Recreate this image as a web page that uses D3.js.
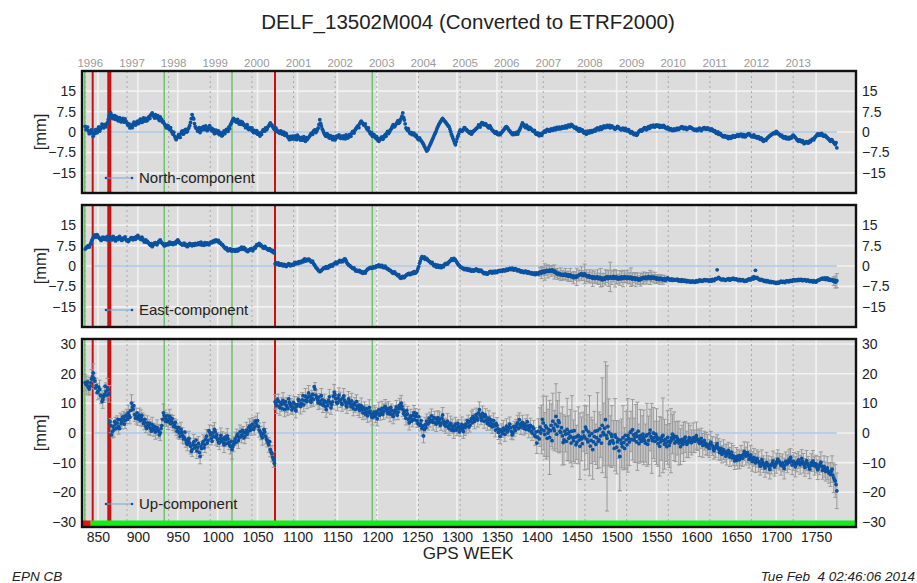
<!DOCTYPE html>
<html>
<head>
<meta charset="utf-8">
<script src="https://cdn.jsdelivr.net/npm/d3@7"></script>
<style>
  body { margin: 0; background: #fff; }
  svg { font-family: "Liberation Sans", Arial, Helvetica, sans-serif; }
</style>
</head>
<body>
<svg id="chart" width="917" height="583"></svg>
<script>
// ---- Weekly solutions. "*Values" hold even GPS weeks from 834,
// ---- "*OddValues" hold odd GPS weeks from 835.
const weekStart = 834;
const weekStep = 2;

const northValues = [
  2.1, 1.0, 0.4, -0.5, 0.8, -1.6, -0.6, 0.5, 1.2, 0.3,
  1.8, 2.4, 2.7, 1.9, 3.5, 5.8, 7.0, 6.1, 5.4, 4.6,
  5.0, 4.1, 4.6, 3.9, 4.3, 4.8, 3.6, 2.4, 1.5, 2.2,
  2.8, 3.4, 2.9, 4.0, 3.6, 4.4, 3.8, 4.7, 5.0, 4.3,
  5.6, 6.2, 7.0, 5.8, 6.4, 5.2, 4.8, 5.5, 4.5, 3.8,
  2.6, 1.5, 2.2, 0.9, 0.4, -0.8, -1.5, -2.8, -2.0, -1.2,
  -0.6, 0.4, -0.3, 1.0, 0.2, 1.6, 3.5, 6.4, 4.8, 2.0,
  1.2, 0.8, -0.2, 1.5, 2.0, 0.9, 1.6, 1.1, 2.3, 0.6,
  0.2, -0.6, 0.7, -0.4, -1.0, -0.2, -1.3, 0.4, 0.2, 0.9,
  1.8, 2.6, 3.9, 5.0, 4.4, 3.6, 4.0, 3.3, 2.8, 3.1,
  2.4, 2.0, 1.3, 1.6, 0.8, 0.2, 0.6, -0.3, -0.8, -1.0,
  -0.4, 0.2, 0.9, 1.5, 1.1, 2.2, 3.3, 2.6, 1.5, 0.8,
  0.8, 0.3, -0.5, 0.1, -0.4, -1.2, -0.6, -1.8, -2.8, -2.1,
  -1.5, -2.6, -1.9, -1.2, -2.2, -3.0, -2.4, -1.7, -3.4, -2.8,
  -2.0, -1.1, -0.4, 0.2, 0.8, 0.3, 1.5, 4.5, 2.2, 0.6,
  -0.8, -1.6, -1.0, -2.2, -1.5, -2.8, -2.0, -2.4, -1.6, -1.1,
  -2.3, -1.8, -1.4, -2.5, -1.6, -1.9, -1.2, -0.5, 0.2, 0.6,
  1.5, 2.3, 3.0, 4.0, 3.2, 2.4, 1.8, 0.8, 0.2, -0.8,
  -1.6, -1.0, -2.2, -2.8, -3.4, -2.6, -1.8, -2.2, -1.0, -0.4,
  -0.6, 0.5, 1.4, 2.7, 2.0, 3.1, 4.2, 3.6, 5.0, 7.0,
  4.4, 1.5, 0.6, 0.1, -0.6, -1.0, -0.4, -1.6, -2.1, -2.8,
  -2.8, -3.6, -4.5, -5.8, -7.0, -6.2, -4.8, -3.5, -2.2, -0.8,
  0.5, 2.0, 3.2, 4.1, 5.0, 4.2, 3.5, 2.7, 2.0, 0.2,
  -1.6, -3.2, -4.7, -2.5, -0.8, 0.8, 0.2, 1.0, 1.5, 0.9,
  0.2, -0.4, -0.8, 0.1, 0.6, 1.2, 1.8, 2.2, 2.9, 3.3,
  2.6, 3.0, 2.2, 1.5, 1.9, 0.8, 0.2, -0.5, -0.3, -1.0,
  -1.0, -0.2, 0.6, 1.4, 2.0, 1.2, 0.4, -0.3, -1.0, -0.6,
  -0.4, -0.8, 0.6, 1.8, 3.3, 2.4, 1.6, 2.1, 1.0, 1.4,
  0.8, 0.3, -0.4, -0.9, -1.0, -0.6, -1.2, -0.2, 0.4, 0.6,
  0.8, 0.3, 1.1, 0.6, 1.4, 1.0, 1.5, 1.8, 1.2, 2.0,
  1.6, 2.2, 1.8, 2.5, 2.1, 2.6, 1.9, 1.4, 1.0, 0.8,
  1.2, 0.4, 0.1, -0.4, -0.8, 0.3, -0.3, 0.5, 0.2, 0.7,
  1.1, 1.5, 0.8, 1.9, 1.3, 2.2, 1.6, 2.4, 2.0, 1.5,
  2.2, 1.7, 1.0, 1.5, 1.9, 1.2, 0.8, 1.4, 0.6, 1.0,
  0.5, 0.2, -0.4, -0.2, -1.0, -0.6, -0.9, 0.2, 0.8, 0.5,
  1.2, 1.5, 1.0, 2.0, 1.6, 2.2, 2.5, 1.8, 2.6, 2.1,
  1.7, 2.3, 1.9, 2.0, 1.4, 1.8, 0.8, 1.2, 0.5, 1.1,
  0.7, 1.4, 1.0, 1.5, 2.0, 1.2, 1.7, 0.9, 1.4, 1.9,
  1.5, 1.1, 0.6, 1.0, 0.8, 1.4, 0.5, 1.2, 1.6, 1.0,
  1.5, 1.1, 0.6, 0.9, 0.2, -0.1, -0.4, -0.9, -0.5, -1.3,
  -1.8, -1.4, -2.0, -2.4, -1.7, -2.1, -1.3, -1.9, -1.6, -1.0,
  -1.4, -0.8, -1.7, -1.2, -1.5, -1.0, -0.6, -1.3, -1.8, -1.1,
  -1.6, -2.2, -1.8, -2.7, -2.4, -3.4, -2.9, -2.5, -2.0, -1.4,
  -1.0, -0.6, -0.2, 0.2, -0.4, -0.9, -1.5, -1.8, -2.2, -1.9,
  -2.2, -2.6, -1.9, -1.6, -1.3, -2.0, -2.8, -3.4, -3.0, -3.6,
  -3.8, -4.0, -3.5, -4.1, -3.3, -3.0, -2.5, -2.2, -1.5, -0.7,
  -0.7, -0.9, -1.2, -1.6, -1.4, -2.1, -2.6, -3.4, -2.9, -3.8,
  -4.6, -5.8
];

const northOddValues = [
  0.9, 1.8, -0.6, 0.6, -0.4, -0.2, 0.9, -0.3, 1.9, 1.1,
  2.9, 1.5, 2.2, 3.0, 4.6, 6.6, 5.2, 4.9, 6.0, 5.6,
  4.2, 5.3, 3.7, 5.0, 3.6, 4.0, 2.8, 3.0, 2.6, 1.6,
  3.6, 2.5, 3.8, 3.1, 4.7, 3.5, 5.2, 4.0, 4.1, 5.2,
  5.0, 6.6, 6.0, 5.1, 5.7, 6.0, 4.2, 4.9, 3.6, 3.1,
  1.9, 2.4, 1.2, 1.6, -0.3, -0.1, -2.2, -1.9, -1.0, -2.0,
  0.2, -0.8, 0.7, 0.0, 1.1, 2.4, 4.9, 5.3, 3.1, 1.4,
  0.3, 1.6, 0.6, 0.8, 1.2, 2.2, 0.5, 1.8, 1.4, 1.3,
  0.9, 0.1, -0.2, 0.4, -0.5, -1.4, -0.4, -0.6, 1.0, 0.2,
  1.2, 3.2, 4.5, 4.2, 3.8, 4.6, 2.9, 3.9, 3.6, 2.5,
  1.6, 2.7, 0.9, 1.0, 1.5, -0.2, 0.1, 0.5, -0.2, -1.5,
  -0.9, 0.8, 0.3, 0.8, 1.9, 2.8, 2.5, 1.9, 1.0, 1.5,
  0.1, -0.2, 0.4, -0.8, -0.1, -0.5, -1.4, -2.2, -1.6, -2.6,
  -2.2, -1.4, -2.8, -1.7, -2.6, -2.0, -3.0, -2.5, -2.1, -2.4,
  -1.6, -0.6, -0.9, 0.6, -0.2, 1.0, 2.8, 3.2, 1.1, -0.2,
  -1.4, -0.6, -1.8, -1.3, -2.3, -1.7, -2.9, -1.5, -2.0, -1.9,
  -1.5, -2.4, -2.0, -1.1, -2.2, -1.0, -1.6, 0.1, -0.4, 1.1,
  2.0, 1.6, 3.6, 3.4, 2.6, 3.0, 1.2, 1.5, -0.4, -0.2,
  -1.0, -1.8, -1.6, -2.4, -2.8, -2.0, -2.7, -1.4, -1.6, 0.2,
  -0.1, 0.9, 2.1, 1.9, 2.6, 3.6, 3.2, 4.4, 5.8, 5.4,
  3.0, 1.1, 1.2, -0.5, -0.2, -0.6, -1.1, -1.2, -2.6, -2.2,
  -3.2, -4.0, -5.2, -6.4, -6.6, -5.4, -4.2, -2.8, -1.5, -0.2,
  1.3, 2.6, 3.7, 4.6, 4.5, 3.8, 3.0, 2.2, 1.1, -0.8,
  -2.4, -4.0, -3.6, -1.6, 0.1, 0.3, 0.6, 1.6, 0.8, 0.4,
  -0.2, 0.1, -0.3, 0.4, 1.0, 1.5, 2.6, 1.8, 3.4, 2.8,
  3.1, 2.4, 1.7, 2.3, 1.2, 0.4, -0.2, 0.1, -0.9, -0.4,
  -0.5, 0.3, 1.0, 1.8, 1.6, 0.7, 0.0, -0.7, -0.3, -0.9,
  -0.1, 0.0, 1.2, 2.6, 2.8, 1.9, 2.5, 1.3, 1.7, 1.1,
  0.4, 0.6, -0.7, -0.3, -1.4, -0.9, -0.5, 0.1, 0.0, 1.0,
  0.4, 0.9, 0.6, 1.2, 0.8, 1.7, 1.1, 1.4, 1.7, 1.4,
  2.0, 1.5, 2.4, 1.9, 2.8, 2.2, 1.6, 1.8, 1.3, 0.3,
  0.7, 0.8, -0.3, 0.2, -0.5, -0.2, 0.4, -0.1, 0.6, 0.3,
  0.8, 1.2, 1.4, 1.0, 1.8, 1.7, 2.0, 1.8, 2.4, 1.9,
  1.8, 1.3, 1.4, 2.1, 1.5, 0.9, 1.2, 0.9, 1.3, 0.4,
  0.9, -0.2, 0.1, -0.7, -0.5, -1.2, -0.2, 0.5, 0.3, 1.0,
  1.6, 0.8, 1.6, 1.3, 2.3, 1.9, 2.0, 2.3, 2.2, 2.5,
  2.0, 1.8, 2.4, 1.6, 1.2, 1.4, 1.0, 0.7, 0.9, 0.6,
  1.1, 0.9, 1.3, 1.8, 1.5, 1.6, 1.2, 1.3, 1.7, 1.4,
  1.2, 0.7, 1.0, 0.5, 1.2, 0.9, 0.9, 1.5, 1.2, 1.3,
  1.0, 0.8, 1.1, 0.4, 0.5, -0.5, 0.0, -0.6, -1.1, -1.6,
  -1.3, -1.9, -1.6, -2.0, -2.3, -1.6, -1.8, -1.4, -1.2, -1.6,
  -1.0, -1.3, -1.0, -1.8, -1.1, -0.7, -1.1, -1.6, -1.4, -1.9,
  -2.0, -1.7, -2.4, -2.2, -3.0, -2.8, -3.1, -2.2, -1.6, -1.2,
  -0.7, -0.3, -0.6, -0.1, -0.7, -1.3, -1.2, -2.1, -1.7, -2.5,
  -2.0, -2.3, -2.2, -1.2, -1.8, -2.4, -3.1, -2.9, -3.4, -3.2,
  -4.3, -3.6, -3.9, -3.7, -3.6, -2.7, -2.9, -1.8, -1.1, -1.2,
  -1.1, -0.5, -1.5, -1.2, -1.8, -2.4, -3.0, -2.8, -3.5, -4.2,
  -3.9
];

const eastValues = [
  6.2, 6.8, 7.4, 7.7, 9.2, 10.5, 11.4, 10.8, 11.0, 10.2,
  9.4, 10.6, 9.8, 10.2, 10.9, 9.5, 10.1, 9.6, 10.4, 9.2,
  10.0, 10.5, 10.2, 9.4, 9.9, 10.7, 9.3, 9.0, 9.8, 10.4,
  9.6, 10.2, 10.8, 11.2, 10.4, 9.7, 10.1, 8.8, 9.6, 9.0,
  8.3, 7.6, 7.1, 8.0, 8.6, 7.8, 8.9, 9.6, 8.5, 8.0,
  7.5, 7.7, 8.3, 8.8, 8.1, 7.9, 8.6, 9.0, 9.6, 8.7,
  8.2, 7.7, 8.4, 7.5, 7.1, 7.6, 8.0, 7.4, 7.9, 8.3,
  7.8, 8.5, 8.3, 7.7, 8.1, 8.6, 7.9, 8.2, 8.3, 8.8,
  9.1, 9.4, 9.6, 9.0, 8.5, 8.3, 7.8, 7.0, 6.3, 6.0,
  5.8, 6.2, 5.5, 6.0, 5.4, 6.1, 5.8, 6.5, 6.9, 6.5,
  6.0, 5.7, 5.3, 5.9, 6.4, 5.6, 6.8, 7.2, 7.6, 8.3,
  7.8, 7.1, 6.5, 6.9, 6.2, 5.8, 6.0, 5.3, 5.0, 0.8,
  0.6, 1.1, 0.3, 0.8, 0.1, 0.5, -0.2, 0.4, 0.7, 0.2,
  0.6, 1.0, 0.8, 1.3, 1.6, 1.2, 1.9, 2.2, 1.8, 2.4,
  2.5, 2.0, 1.4, 1.0, 0.1, -0.8, -1.5, -2.1, -1.6, -1.0,
  -0.6, -0.2, -0.8, 0.1, 0.4, 0.0, 0.9, 1.4, 1.1, 1.7,
  1.5, 2.0, 2.2, 2.5, 1.2, 0.4, 0.0, -0.5, -1.0, -1.3,
  -1.5, -2.0, -1.7, -2.4, -2.7, -2.2, -1.8, -1.2, -0.9, -0.5,
  -0.8, -0.2, -0.5, 0.1, 0.4, -0.3, 0.2, -0.6, -0.1, -0.9,
  -1.2, -1.5, -2.1, -2.7, -2.3, -3.0, -3.6, -4.0, -4.5, -3.8,
  -4.2, -3.5, -3.1, -2.7, -3.0, -2.4, -2.1, -2.6, -1.8, -0.2,
  1.8, 3.4, 3.0, 2.4, 2.8, 2.0, 1.6, 1.0, 0.6, 0.2,
  -0.4, 0.3, -0.2, -0.6, 0.1, 0.4, 1.0, 0.7, 1.5, 2.0,
  2.4, 2.8, 2.2, 1.2, 0.4, -0.2, -0.5, -1.0, -0.9, -1.4,
  -1.6, -1.2, -1.9, -1.4, -1.6, -1.1, -1.8, -2.0, -1.5, -2.2,
  -2.8, -2.5, -3.0, -2.4, -2.0, -2.6, -2.2, -1.9, -2.4, -1.7,
  -1.6, -2.0, -1.4, -1.8, -1.2, -1.5, -0.9, -1.3, -1.0, -1.4,
  -1.2, -1.8, -1.5, -2.2, -2.0, -2.4, -1.9, -2.6, -2.3, -2.8,
  -2.6, -2.8, -3.2, -2.5, -2.9, -2.2, -2.4, -1.9, -2.2, -1.6,
  -2.0, -1.5, -1.8, -1.6, -2.2, -2.5, -2.9, -3.2, -3.0, -3.4,
  -3.4, -3.0, -3.6, -3.8, -3.3, -4.0, -4.3, -3.7, -4.0, -3.5,
  -3.2, -2.8, -3.5, -2.9, -3.6, -4.0, -3.8, -4.2, -4.5, -4.1,
  -4.4, -4.0, -4.7, -4.3, -5.1, -4.6, -4.2, -3.9, -4.5, -4.0,
  -4.2, -3.8, -4.5, -4.1, -4.8, -4.4, -4.0, -4.6, -3.9, -4.3,
  -4.0, -4.5, -4.1, -4.8, -4.3, -5.0, -4.6, -5.2, -5.0, -4.7,
  -4.4, -4.1, -4.6, -3.9, -4.2, -4.0, -4.5, -4.3, -4.8, -4.7,
  -4.9, -4.7, -5.1, -4.6, -5.0, -4.4, -4.8, -5.0, -5.3, -4.9,
  -5.2, -4.8, -5.5, -5.3, -5.0, -5.6, -5.2, -5.8, -5.5, -5.9,
  -5.9, -5.6, -6.0, -5.4, -5.7, -5.1, -5.3, -5.5, -5.0, -5.4,
  -5.2, -5.6, -5.3, -4.9, -5.4, -4.6, -1.4, -4.2, -4.8, -5.1,
  -4.8, -5.3, -5.0, -4.6, -5.2, -4.9, -4.5, -5.0, -4.7, -5.2,
  -4.9, -5.4, -5.0, -5.6, -5.3, -5.1, -4.7, -5.0, -4.4, -3.9,
  -1.6, -4.2, -4.8, -5.2, -5.0, -5.4, -5.3, -5.8, -5.6, -6.0,
  -6.1, -5.8, -6.2, -6.4, -5.9, -6.1, -5.6, -6.0, -5.9, -5.7,
  -5.5, -5.8, -5.3, -5.6, -5.0, -5.3, -5.4, -4.9, -5.2, -5.0,
  -5.3, -5.0, -5.5, -5.2, -5.7, -5.4, -5.9, -5.6, -5.9, -5.3,
  -5.1, -4.8, -4.5, -4.7, -5.0, -4.4, -5.2, -5.3, -5.0, -5.6,
  -5.9, -5.4
];

const eastOddValues = [
  6.6, 7.3, 6.9, 8.4, 9.8, 11.0, 10.6, 11.5, 10.4, 9.8,
  10.1, 10.0, 10.5, 9.6, 10.2, 10.6, 9.8, 10.9, 9.9, 10.3,
  9.7, 10.9, 9.6, 10.1, 10.3, 9.8, 9.6, 9.5, 10.2, 9.9,
  10.4, 9.8, 10.3, 10.6, 9.9, 10.6, 9.4, 9.3, 8.7, 8.6,
  7.9, 8.2, 7.6, 8.5, 8.1, 8.4, 9.2, 8.9, 8.2, 7.4,
  8.1, 8.0, 7.9, 8.2, 8.5, 8.3, 8.1, 8.7, 9.1, 8.3,
  7.9, 8.0, 7.8, 7.9, 7.4, 8.3, 7.7, 8.1, 7.6, 8.0,
  8.2, 7.9, 8.8, 8.3, 7.6, 8.2, 8.5, 7.8, 8.7, 8.5,
  8.8, 9.0, 9.2, 9.4, 8.7, 7.9, 7.4, 6.6, 6.7, 5.6,
  6.3, 5.6, 5.9, 5.6, 5.9, 5.5, 6.3, 6.1, 6.2, 6.8,
  6.3, 5.4, 5.8, 6.2, 5.9, 6.3, 6.5, 7.8, 7.9, 7.5,
  7.4, 6.7, 7.2, 6.5, 6.0, 6.4, 5.6, 5.7, 4.8, 1.2,
  0.9, 0.4, 0.7, 0.2, 0.6, 0.0, 0.3, 0.9, 0.1, 0.5,
  0.3, 1.3, 1.1, 0.9, 1.4, 1.7, 1.5, 2.6, 2.1, 2.0,
  2.3, 1.6, 1.8, 0.5, -0.4, -1.1, -1.8, -1.9, -1.3, -0.7,
  -0.9, -0.5, -0.3, -0.2, 0.2, 0.6, 1.0, 0.8, 1.5, 2.1,
  1.8, 1.6, 2.6, 1.9, 0.8, 0.2, -0.3, -0.8, -0.7, -1.8,
  -1.9, -1.6, -2.2, -2.1, -2.4, -2.6, -1.5, -1.0, -0.6, -0.9,
  -0.4, -0.6, 0.0, -0.2, 0.0, 0.1, -0.4, -0.2, -0.7, -1.1,
  -1.6, -1.8, -2.5, -2.2, -2.8, -3.3, -3.2, -4.4, -4.0, -4.3,
  -3.7, -3.2, -2.8, -3.2, -2.6, -2.8, -2.5, -2.2, -1.0, 1.0,
  2.8, 2.9, 3.3, 2.7, 2.3, 1.7, 1.2, 1.3, 0.1, 0.5,
  0.0, -0.5, 0.1, -0.2, -0.3, 0.8, 0.6, 1.2, 1.8, 2.6,
  2.1, 2.5, 1.7, 0.8, 0.1, -0.6, -0.8, -1.3, -1.2, -1.0,
  -1.3, -1.7, -1.5, -1.9, -1.3, -1.5, -1.4, -1.7, -2.0, -2.5,
  -2.4, -2.9, -2.6, -2.1, -2.4, -2.0, -2.5, -2.2, -1.9, -2.0,
  -1.8, -1.5, -1.7, -1.4, -1.6, -1.1, -1.2, -0.8, -1.5, -1.0,
  -1.5, -1.4, -1.9, -1.8, -2.3, -2.0, -2.2, -2.1, -2.6, -2.4,
  -3.0, -2.5, -2.8, -2.9, -2.4, -2.7, -2.0, -2.4, -1.8, -1.9,
  -1.7, -1.9, -1.4, -2.0, -1.9, -2.8, -2.6, -2.9, -3.3, -3.1,
  -3.1, -3.4, -3.2, -3.5, -3.7, -3.6, -3.9, -4.2, -3.6, -3.3,
  -3.0, -3.3, -3.1, -3.4, -3.8, -3.5, -4.1, -3.9, -4.0, -4.6,
  -4.1, -4.5, -4.2, -4.8, -4.5, -4.9, -4.4, -4.6, -4.1, -4.4,
  -4.5, -4.3, -4.0, -4.6, -4.2, -4.7, -4.3, -4.1, -4.4, -4.6,
  -4.4, -4.2, -4.7, -4.4, -4.7, -4.5, -4.9, -4.7, -4.5, -4.2,
  -4.6, -4.3, -4.2, -4.4, -4.6, -4.3, -4.1, -4.6, -4.4, -5.0,
  -4.5, -4.9, -4.8, -5.2, -4.7, -4.9, -5.2, -4.7, -5.0, -5.2,
  -5.0, -5.3, -5.1, -5.6, -5.4, -5.3, -5.6, -5.4, -5.7, -5.6,
  -5.6, -5.8, -5.7, -5.8, -5.4, -5.5, -5.6, -5.2, -5.3, -5.1,
  -5.4, -5.1, -5.5, -5.2, -5.0, -4.8, -4.5, -4.6, -5.0, -4.8,
  -5.0, -5.1, -4.8, -5.0, -4.7, -4.8, -4.7, -4.9, -5.0, -5.4,
  -5.2, -5.1, -5.3, -5.4, -5.5, -4.9, -5.1, -4.6, -4.8, -4.5,
  -4.4, -4.6, -5.0, -4.9, -5.2, -5.6, -5.5, -5.4, -5.8, -5.7,
  -5.9, -6.0, -6.0, -6.2, -6.3, -5.8, -5.9, -5.7, -6.1, -5.5,
  -5.7, -5.5, -5.5, -5.2, -5.4, -5.1, -5.2, -5.3, -4.9, -5.4,
  -5.1, -5.3, -5.2, -5.4, -5.5, -5.6, -5.4, -5.8, -5.5, -5.2,
  -4.9, -4.6, -4.8, -4.4, -4.7, -4.9, -4.8, -5.1, -5.4, -5.2,
  -5.7
];

const upValues = [
  17.0, 16.2, 15.4, 15.8, 18.2, 20.3, 17.5, 16.0, 14.0, 14.7,
  12.5, 11.3, 13.0, 14.0, 15.2, 13.2, 2.5, 0.5, 1.1, 3.0,
  3.4, 2.2, 4.5, 3.8, 5.0, 4.2, 5.6, 6.8, 5.3, 10.1,
  8.0, 6.2, 5.6, 4.8, 6.0, 5.1, 4.5, 3.6, 2.3, 3.4,
  2.0, 1.5, 2.8, 1.1, 0.3, 1.8, 0.6, 0.0, 2.5, 6.8,
  5.2, 4.5, 3.8, 5.6, 4.0, 3.4, 2.6, 1.8, 0.7, 0.0,
  1.2, -0.8, -1.5, -2.3, -3.8, -1.8, -4.5, -5.6, -3.0, -4.2,
  -6.0, -3.5, -7.9, -5.2, -2.8, -4.0, -1.1, -2.5, 0.3, -1.8,
  0.0, 1.2, -1.5, -2.2, -3.4, -0.8, -2.0, -4.0, -2.3, -1.0,
  -3.2, -4.5, -5.6, -3.8, -2.0, -1.1, -2.6, 0.4, -0.8, 0.0,
  -1.2, 1.0, 0.5, 2.3, 1.6, 3.0, 2.0, 3.4, 4.2, 1.0,
  0.0, -1.6, 1.2, -1.1, -2.4, -4.0, -5.6, -7.0, -9.0, 10.5,
  9.2, 10.7, 8.5, 9.6, 11.0, 7.9, 9.4, 8.2, 10.3, 9.0,
  8.6, 9.8, 7.5, 9.6, 10.8, 8.9, 11.2, 9.5, 12.4, 10.6,
  13.5, 11.0, 11.8, 11.3, 14.8, 12.0, 10.2, 10.7, 12.6, 9.4,
  10.8, 7.9, 9.2, 12.2, 8.5, 10.5, 13.8, 11.6, 10.0, 12.8,
  11.2, 9.6, 12.5, 10.4, 8.8, 11.5, 9.9, 10.8, 8.2, 9.5,
  10.6, 8.4, 7.6, 9.2, 6.8, 8.0, 7.1, 5.8, 8.6, 6.4,
  5.2, 7.0, 6.1, 4.8, 7.9, 6.5, 8.3, 7.2, 9.0, 7.6,
  8.2, 6.4, 7.5, 5.6, 6.8, 8.8, 7.0, 9.4, 10.1, 8.0,
  7.2, 5.0, 6.4, 3.4, 5.8, 4.6, 6.9, 5.6, 4.2, 5.5,
  3.1, 1.6, -1.0, 2.8, 4.0, 3.2, 4.5, 5.8, 3.6, 4.9,
  3.0, 5.2, 4.5, 3.3, 6.1, 2.8, 2.3, 4.0, 1.5, 3.2,
  2.3, 0.8, 3.0, 1.6, 2.2, 1.1, 2.9, 0.5, 1.8, 2.3,
  3.5, 2.6, 4.8, 5.6, 3.9, 6.2, 4.4, 7.9, 5.1, 6.6,
  4.0, 5.6, 3.2, 5.0, 3.4, 2.1, 4.2, 1.0, 2.6, 0.2,
  -1.1, 0.8, 1.6, -0.4, 2.3, 1.2, 3.0, 0.5, 0.0, 1.4,
  2.2, 3.4, 4.5, 2.0, 3.6, 1.5, 2.3, 3.8, 1.0, 2.6,
  0.0, 1.4, -1.2, -3.4, 0.6, 2.0, 1.2, 3.4, -0.5, 1.8,
  0.0, -1.5, 2.6, 4.0, 0.8, 5.6, 2.3, 3.5, 0.2, -1.0,
  -2.3, -0.4, 1.2, -1.8, -1.1, 0.6, -2.6, -1.4, -3.2, -0.8,
  -4.5, -2.0, 0.4, -1.6, 1.1, -3.0, -0.9, -2.5, -5.6, -1.2,
  -3.8, 0.8, -2.3, -1.0, 2.6, -0.5, 4.5, -1.8, 0.3, -2.8,
  -1.2, -3.4, -0.6, -4.8, -2.2, -7.9, -3.5, -1.6, -5.2, -2.3,
  -0.8, -3.0, 0.5, 1.1, -2.4, -0.2, -1.1, -3.6, -0.9, -2.0,
  -1.5, -3.4, -0.6, -2.5, 1.0, -1.8, 0.0, -2.8, -1.2, -3.6,
  -4.5, -2.0, -0.8, -3.8, -3.4, -1.5, -4.2, -2.6, -0.4, -1.1,
  -2.9, -1.8, -3.4, -4.6, -2.2, -3.0, -1.4, -3.8, -2.5, -2.0,
  -3.2, -1.6, -2.8, -0.9, -2.3, -3.5, -1.8, -4.2, -2.6, -3.6,
  -4.0, -5.2, -3.1, -4.4, -6.0, -4.8, -3.6, -5.5, -6.0, -7.2,
  -5.6, -6.8, -7.3, -5.9, -8.1, -6.5, -7.6, -9.4, -8.0, -8.8,
  -9.0, -7.6, -8.5, -6.2, -7.8, -6.6, -8.9, -7.4, -9.6, -8.2,
  -10.1, -8.6, -9.7, -11.2, -9.0, -10.5, -11.8, -9.9, -10.7, -12.3,
  -10.9, -9.4, -11.5, -10.2, -8.8, -9.7, -11.0, -10.1, -12.0, -9.5,
  -10.4, -9.0, -8.2, -10.8, -9.6, -11.4, -10.0, -9.1, -10.7, -8.6,
  -10.2, -11.6, -9.3, -10.8, -12.2, -10.0, -9.4, -11.1, -10.5, -12.4,
  -11.0, -9.8, -12.6, -11.3, -13.0, -11.8, -13.5, -14.0, -12.2, -15.1,
  -16.2, -19.5
];

const upOddValues = [
  16.4, 17.2, 14.8, 16.9, 19.0, 18.4, 15.2, 13.6, 15.5, 12.8,
  10.6, 12.2, 15.8, 12.8, 14.6, 3.8, -0.6, 2.2, 3.9, 1.6,
  4.6, 1.5, 3.2, 5.4, 3.0, 6.0, 4.6, 5.9, 7.6, 8.8,
  9.2, 5.0, 6.8, 5.5, 4.2, 5.9, 3.2, 4.6, 1.6, 2.7,
  3.2, 0.6, 1.9, 2.2, 0.9, 1.0, -0.6, 1.5, 4.6, 5.9,
  3.9, 5.8, 4.6, 3.1, 4.8, 2.2, 3.6, 0.6, 1.9, -1.2,
  0.2, -2.0, 0.3, -3.2, -2.6, -3.4, -6.2, -4.0, -5.0, -2.4,
  -4.8, -6.6, -4.4, -3.6, -5.0, -2.2, -3.4, 0.8, -0.6, -2.8,
  -1.2, 0.4, -0.6, -3.0, -1.8, -2.6, -3.2, -1.4, -3.6, -2.0,
  -4.0, -2.8, -4.6, -2.9, -3.2, -0.4, -1.6, -1.2, 0.9, -1.6,
  0.2, -0.4, 1.8, 0.9, 2.8, 1.2, 4.0, 2.5, 2.2, 0.5,
  -0.8, -0.2, 0.4, -2.0, -3.2, -2.8, -6.5, -8.2, -10.2, 9.8,
  11.4, 9.0, 10.2, 8.2, 9.9, 10.6, 8.8, 11.5, 9.7, 7.8,
  10.2, 8.4, 9.0, 11.3, 9.4, 10.0, 12.6, 10.9, 11.2, 12.0,
  12.4, 10.4, 13.0, 15.6, 12.8, 11.2, 12.1, 9.8, 11.2, 10.0,
  9.0, 10.4, 11.0, 10.2, 9.6, 12.4, 12.9, 10.4, 11.8, 10.9,
  10.1, 11.8, 11.0, 9.3, 10.2, 10.6, 8.9, 9.4, 10.0, 8.0,
  9.0, 9.4, 8.6, 7.9, 8.6, 6.4, 8.2, 7.0, 7.4, 5.4,
  6.4, 5.6, 7.2, 6.6, 6.0, 7.4, 6.2, 8.6, 8.1, 6.6,
  7.0, 8.6, 6.2, 7.4, 7.8, 6.0, 8.2, 8.4, 9.0, 6.6,
  6.0, 7.6, 4.6, 5.2, 4.0, 5.9, 4.4, 6.6, 3.2, 2.6,
  4.2, 2.4, 1.2, 1.8, 3.0, 5.0, 3.8, 4.2, 5.2, 3.4,
  4.4, 3.6, 2.6, 5.0, 4.0, 3.6, 3.4, 2.2, 2.8, 1.0,
  1.6, 2.4, 1.0, 3.2, 0.4, 2.0, 1.6, 2.6, 3.0, 4.2,
  2.0, 4.0, 3.4, 4.6, 5.0, 5.2, 6.8, 6.0, 4.2, 5.4,
  6.2, 4.4, 4.2, 2.6, 4.4, 3.0, 2.4, 3.2, 1.4, 1.2,
  0.6, -0.2, 0.9, 1.2, 0.4, 2.0, 1.8, -0.6, 2.2, 0.8,
  3.0, 1.6, 2.8, 3.2, 2.4, 3.0, 1.2, 2.4, 1.8, 0.6,
  2.0, -0.6, 0.4, -1.4, -2.0, 0.0, 4.6, 0.8, 2.4, -1.8,
  1.2, 0.8, -2.6, 1.6, 3.0, -0.4, 4.2, 0.6, 1.8, -3.2,
  0.6, -2.8, -0.2, 0.4, -3.4, -1.6, 0.8, -4.0, -1.2, -2.4,
  -1.4, -3.6, -1.0, 2.0, -2.2, 0.4, -4.4, -0.2, -3.0, 0.6,
  -1.6, -2.8, 1.4, -3.4, 0.2, 1.6, -0.8, 2.2, -3.6, -0.4,
  -2.6, -5.2, -1.4, -3.0, -6.0, -2.4, -4.6, -3.2, -0.8, -4.0,
  -1.8, 0.2, -2.2, -0.6, -1.4, -3.0, 0.6, -2.0, -2.8, -0.4,
  -2.6, -1.0, -3.8, -0.2, -1.2, -2.6, -1.6, -0.4, -2.2, -1.8,
  -3.0, -1.2, -2.6, -2.2, -4.6, -2.8, -3.2, -1.6, -2.0, -3.4,
  -1.2, -2.6, -2.4, -3.2, -3.8, -2.0, -2.8, -3.0, -1.6, -3.2,
  -2.4, -2.2, -1.4, -2.0, -3.0, -2.6, -3.2, -3.0, -4.0, -4.6,
  -4.6, -3.8, -4.0, -5.4, -5.2, -4.2, -4.8, -6.6, -5.2, -6.4,
  -6.2, -7.8, -6.4, -7.0, -7.2, -8.4, -8.2, -8.6, -9.2, -7.6,
  -8.4, -8.2, -7.2, -7.4, -7.0, -7.6, -8.0, -8.6, -9.0, -9.4,
  -9.2, -9.4, -10.4, -10.2, -9.8, -11.2, -10.6, -10.8, -11.4, -11.0,
  -10.2, -10.6, -10.8, -9.6, -9.4, -10.4, -10.6, -11.2, -10.8, -10.0,
  -9.6, -9.8, -9.4, -9.8, -10.4, -10.6, -9.6, -10.2, -9.8, -9.6,
  -10.8, -10.4, -10.2, -11.4, -11.0, -10.8, -10.2, -10.4, -11.6, -11.8,
  -10.4, -11.2, -12.0, -12.4, -12.2, -12.8, -13.2, -13.0, -14.2, -15.8,
  -17.4
];

// Formal error (mm) of each even-week Up value
const upErrors = [
  2.8, 3.0, 2.6, 2.9, 3.2, 3.0, 2.7, 2.5, 2.8, 3.1,
  2.6, 3.0, 2.7, 2.9, 3.2, 2.8, 2.4, 2.2, 2.5, 2.3,
  2.4, 2.6, 2.2, 2.5, 2.3, 2.7, 2.4, 2.6, 2.2, 2.8,
  2.5, 2.3, 2.6, 2.2, 2.4, 2.7, 2.3, 2.5, 2.2, 2.4,
  2.6, 2.3, 2.5, 2.2, 2.4, 2.6, 2.3, 2.5, 2.4, 3.0,
  2.5, 2.3, 2.6, 2.4, 2.2, 2.5, 2.3, 2.6, 2.4, 2.2,
  2.4, 2.6, 2.3, 2.5, 2.2, 2.4, 2.6, 2.3, 2.5, 2.4,
  2.6, 2.3, 2.5, 2.4, 2.2, 2.6, 2.3, 2.5, 2.4, 2.2,
  2.5, 2.3, 2.6, 2.4, 2.2, 2.5, 2.4, 2.6, 2.3, 2.5,
  2.4, 2.6, 3.2, 2.5, 2.3, 2.4, 2.6, 2.3, 2.5, 2.2,
  2.4, 2.6, 2.3, 2.5, 2.4, 2.2, 2.6, 2.3, 2.5, 2.4,
  2.3, 2.5, 2.4, 2.6, 2.3, 2.5, 2.4, 2.7, 2.6, 2.5,
  2.6, 2.4, 2.5, 2.3, 2.6, 2.4, 2.5, 2.2, 2.4, 2.6,
  2.3, 2.5, 2.4, 2.6, 2.2, 2.5, 2.4, 2.3, 2.6, 2.4,
  2.5, 2.3, 2.6, 2.4, 2.2, 2.5, 2.3, 2.6, 2.4, 2.5,
  2.3, 2.6, 2.4, 2.5, 2.2, 2.4, 2.6, 2.3, 2.5, 2.4,
  2.6, 2.3, 2.5, 2.4, 2.2, 2.5, 2.3, 2.6, 2.4, 2.5,
  2.3, 2.5, 2.4, 2.6, 2.3, 2.5, 2.4, 2.2, 2.6, 2.4,
  2.5, 2.3, 2.6, 2.4, 2.5, 2.2, 2.4, 2.6, 2.3, 2.5,
  2.4, 2.6, 2.3, 2.5, 2.4, 2.2, 2.5, 2.3, 2.6, 2.4,
  2.5, 2.3, 2.6, 2.4, 2.2, 2.5, 2.4, 2.6, 2.3, 2.5,
  2.4, 2.6, 2.3, 2.5, 2.4, 2.2, 2.5, 2.3, 2.6, 2.4,
  2.5, 2.3, 2.6, 2.4, 2.5, 2.2, 2.4, 2.6, 2.3, 2.5,
  2.4, 2.6, 2.3, 2.5, 2.4, 2.2, 2.5, 2.3, 2.6, 2.4,
  2.5, 2.3, 2.6, 2.4, 2.5, 2.2, 2.4, 2.6, 2.3, 2.5,
  2.4, 2.6, 2.3, 2.5, 2.4, 2.2, 2.5, 2.3, 2.6, 2.4,
  2.5, 2.3, 2.6, 2.4, 2.5, 2.2, 2.4, 2.6, 2.3, 2.5,
  2.4, 2.6, 2.3, 2.5, 2.4, 2.2, 2.5, 2.3, 2.6, 2.4,
  2.5, 2.8, 3.0, 3.5, 4.2, 6.5, 8.2, 9.0, 7.4, 10.6,
  8.0, 12.5, 7.2, 9.4, 6.8, 11.0, 8.6, 10.2, 6.5, 9.8,
  8.4, 6.0, 10.5, 7.6, 9.0, 12.0, 7.0, 8.8, 5.8, 9.6,
  11.2, 7.4, 6.6, 10.8, 8.0, 9.2, 13.5, 7.8, 10.0, 8.5,
  6.8, 12.8, 9.4, 7.2, 16.0, 10.6, 19.5, 24.5, 11.2, 8.6,
  10.4, 7.6, 12.2, 9.0, 6.4, 11.6, 8.2, 10.8, 7.0, 9.6,
  12.4, 8.0, 6.8, 10.2, 7.4, 9.8, 11.5, 6.6, 8.8, 7.8,
  9.2, 6.4, 10.6, 8.2, 7.0, 11.8, 8.6, 6.8, 9.4, 7.6,
  10.0, 7.2, 12.6, 8.4, 6.2, 9.0, 7.4, 10.8, 6.6, 8.2,
  6.8, 5.6, 7.4, 6.0, 4.8, 6.6, 5.2, 4.4, 5.8, 4.6,
  4.2, 5.0, 3.8, 4.6, 3.6, 4.4, 3.4, 4.0, 3.2, 3.8,
  3.5, 3.0, 3.6, 3.2, 2.8, 3.4, 3.0, 3.6, 3.2, 2.9,
  3.3, 3.0, 3.5, 2.8, 3.2, 3.0, 3.4, 2.9, 3.1, 3.3,
  3.0, 3.4, 2.8, 3.2, 3.0, 3.5, 2.9, 3.1, 3.3, 3.0,
  3.2, 2.9, 3.4, 3.0, 3.3, 2.8, 3.1, 3.4, 3.0, 3.2,
  2.9, 3.3, 3.0, 3.4, 3.1, 2.8, 3.2, 3.0, 3.5, 3.1,
  3.0, 3.3, 2.9, 3.2, 3.0, 3.4, 3.1, 2.8, 3.2, 3.0,
  3.3, 3.0, 3.4, 2.9, 3.2, 3.0, 3.5, 3.1, 3.0, 3.3,
  3.1, 3.4, 3.0, 3.6, 3.2, 3.8, 3.4, 4.0, 4.5, 5.0,
  5.5, 6.0
];

// East values whose formal error is large enough to show
const eastErrWeeks = [
  1404, 1406, 1408, 1410, 1412, 1414, 1416, 1418, 1420, 1422, 1424, 1426, 1428, 1430, 1432,
  1434, 1436, 1438, 1440, 1442, 1444, 1446, 1448, 1450, 1452, 1454, 1456, 1458, 1460, 1462,
  1464, 1466, 1468, 1470, 1472, 1474, 1476, 1478, 1480, 1482, 1484, 1486, 1488, 1490, 1492,
  1494, 1496, 1498, 1500, 1502, 1504, 1506, 1508, 1510, 1512, 1514, 1516, 1518, 1520, 1522,
  1524, 1526, 1528, 1530, 1532, 1534, 1536, 1538, 1540, 1542, 1544, 1546, 1548, 1550, 1552,
  1554, 1556, 1558, 1560, 1562, 1772, 1774, 1776
];
const eastErrValues = [
  1.6, 2.2, 1.4, 3.0, 1.8, 2.4, 1.5, 2.0, 1.7, 2.6, 1.6, 2.0, 1.4, 2.3, 1.8,
  1.5, 2.1, 1.6, 1.9, 2.4, 1.7, 2.2, 1.5, 3.2, 2.0, 1.6, 2.5, 1.8, 3.6, 2.2,
  1.7, 2.4, 2.0, 3.0, 2.2, 1.8, 2.6, 2.1, 3.4, 2.4, 1.9, 2.8, 2.2, 3.0, 5.4,
  2.6, 2.0, 3.2, 2.4, 1.8, 2.7, 2.1, 3.0, 2.2, 1.7, 2.5, 2.0, 3.4, 2.3, 1.8,
  2.6, 2.0, 1.6, 2.4, 1.9, 2.2, 1.7, 2.0, 1.5, 2.6, 1.8, 1.4, 2.0, 1.6, 1.3,
  1.8, 1.4, 1.6, 1.2, 1.0, 1.6, 2.2, 2.6
];

// ---- Axes, calendar and event markers ----
const weekTicks = [850, 900, 950, 1000, 1050, 1100, 1150, 1200, 1250, 1300, 1350, 1400,
                   1450, 1500, 1550, 1600, 1650, 1700, 1750];
const yearLabels = ["1996", "1997", "1998", "1999", "2000", "2001", "2002", "2003", "2004",
                    "2005", "2006", "2007", "2008", "2009", "2010", "2011", "2012", "2013"];
const yearWeeks = [834.1, 886.4, 938.6, 990.7, 1042.9, 1095.1, 1147.3, 1199.4, 1251.6,
                   1303.9, 1356.0, 1408.1, 1460.3, 1512.6, 1564.7, 1616.9, 1669.0, 1721.3];
const equipmentChanges = [833.4, 933.1, 1018.0, 1193.8];   // green
const offsetWeeks = [843.4, 864.2, 1071.9];                 // red
const offsetWidths = [2, 4, 2];
const horizTicks = [15, 7.5, 0, -7.5, -15];
const upTicks = [30, 20, 10, 0, -10, -20, -30];
const dataStartWeek = 840.9;   // coverage bar: red before, green after
const refStart = [834, 845, 845];
const refEnd = 1776;

// ---- Layout ----
const svg = d3.select("#chart");
const x = d3.scaleLinear().domain([830, 1800]).range([82, 856]);

// (week, value) pairs from the even-week and odd-week lists
const toPoints = (even, odd) => {
  const pts = even.map((v, i) => ({ w: weekStart + i * weekStep, v }));
  odd.forEach((v, i) => pts.push({ w: weekStart + 1 + i * weekStep, v }));
  return pts.sort((a, b) => a.w - b.w);
};

const panels = [
  { label: "North-component", values: northValues, points: toPoints(northValues, northOddValues),
    top: 71, bottom: 193, lim: 22.4, ticks: horizTicks, legendY: 178, ref: refStart[0] },
  { label: "East-component", values: eastValues, points: toPoints(eastValues, eastOddValues),
    top: 205, bottom: 327, lim: 22.4, ticks: horizTicks, legendY: 310, ref: refStart[1],
    errs: eastErrWeeks.map((w, i) => ({ w, e: eastErrValues[i] })) },
  { label: "Up-component", values: upValues, points: toPoints(upValues, upOddValues),
    top: 339, bottom: 527, lim: 31.7, ticks: upTicks, legendY: 504, ref: refStart[2],
    errs: upValues.map((v, i) => ({ w: weekStart + i * weekStep, e: upErrors[i] })), coverage: true }
];

const fmt = d => (Number.isInteger(d) ? d3.format("d")(d) : d3.format(".1f")(d));

panels.forEach((p, pi) => {
  const y = d3.scaleLinear().domain([-p.lim, p.lim]).range([p.bottom, p.top]);
  const g = svg.append("g");
  const clipId = "clip" + pi;
  svg.append("clipPath").attr("id", clipId)
    .append("rect").attr("x", x.range()[0]).attr("y", p.top)
    .attr("width", x.range()[1] - x.range()[0]).attr("height", p.bottom - p.top);

  g.append("rect").attr("x", x.range()[0]).attr("y", p.top)
    .attr("width", x.range()[1] - x.range()[0]).attr("height", p.bottom - p.top)
    .attr("fill", "#dcdcdc");

  const inner = g.append("g").attr("clip-path", `url(#${clipId})`);

  // white grid
  inner.selectAll("line.hg").data(p.ticks).join("line")
    .attr("x1", x.range()[0]).attr("x2", x.range()[1])
    .attr("y1", d => y(d)).attr("y2", d => y(d))
    .attr("stroke", "#f2f2f2").attr("stroke-width", 1.6);
  inner.selectAll("line.vg").data(weekTicks).join("line")
    .attr("x1", d => x(d)).attr("x2", d => x(d))
    .attr("y1", p.top).attr("y2", p.bottom)
    .attr("stroke", "#f2f2f2").attr("stroke-width", 1.6);

  // year boundaries
  inner.selectAll("line.yr").data(yearWeeks).join("line")
    .attr("x1", d => x(d)).attr("x2", d => x(d))
    .attr("y1", p.top).attr("y2", p.bottom)
    .attr("stroke", "#9c9c9c").attr("stroke-width", 0.8).attr("stroke-dasharray", "2,3");

  // reference level
  inner.append("line")
    .attr("x1", x(p.ref)).attr("x2", x(refEnd))
    .attr("y1", y(0)).attr("y2", y(0))
    .attr("stroke", "#8eb0da").attr("stroke-width", 1.2);

  // equipment changes and offsets
  inner.selectAll("line.eq").data(equipmentChanges).join("line")
    .attr("x1", d => x(d)).attr("x2", d => x(d))
    .attr("y1", p.top).attr("y2", p.bottom)
    .attr("stroke", "#6fc06f").attr("stroke-width", 1.5);
  inner.selectAll("line.off").data(offsetWeeks).join("line")
    .attr("x1", d => x(d)).attr("x2", d => x(d))
    .attr("y1", p.top).attr("y2", p.bottom)
    .attr("stroke", "#cc1010").attr("stroke-width", (d, i) => offsetWidths[i]);

  // error bars
  if (p.errs) {
    const valueAt = w => p.values[Math.round((w - weekStart) / weekStep)];
    const eb = inner.append("g").attr("stroke", "#9a9a9a").attr("stroke-width", 1);
    p.errs.forEach(d => {
      const v = valueAt(d.w);
      if (v === undefined) return;
      const xx = x(d.w), y1 = y(v + d.e), y2 = y(v - d.e);
      eb.append("line").attr("x1", xx).attr("x2", xx).attr("y1", y1).attr("y2", y2);
      eb.append("line").attr("x1", xx - 2).attr("x2", xx + 2).attr("y1", y1).attr("y2", y1);
      eb.append("line").attr("x1", xx - 2).attr("x2", xx + 2).attr("y1", y2).attr("y2", y2);
    });
  }

  // observations
  inner.selectAll("circle.pt").data(p.points).join("circle")
    .attr("cx", d => x(d.w)).attr("cy", d => y(d.v))
    .attr("r", 1.9).attr("fill", "#0b52a0");

  // data coverage bar
  if (p.coverage) {
    inner.append("rect").attr("x", x.range()[0]).attr("y", p.bottom - 6.5)
      .attr("width", x(dataStartWeek) - x.range()[0]).attr("height", 6.5).attr("fill", "#ee1111");
    inner.append("rect").attr("x", x(dataStartWeek)).attr("y", p.bottom - 6.5)
      .attr("width", x.range()[1] - x(dataStartWeek)).attr("height", 6.5).attr("fill", "#11ee11");
  }

  // legend
  const lg = g.append("g");
  lg.append("line").attr("x1", 106).attr("x2", 132).attr("y1", p.legendY).attr("y2", p.legendY)
    .attr("stroke", "#7aa3d6").attr("stroke-width", 1);
  lg.selectAll("circle").data([106, 132]).join("circle")
    .attr("cx", d => d).attr("cy", p.legendY).attr("r", 1.3).attr("fill", "#0b52a0");
  lg.append("text").attr("x", 139).attr("y", p.legendY + 5)
    .attr("font-size", 15).attr("fill", "#222").text(p.label);

  // frame
  g.append("rect").attr("x", x.range()[0]).attr("y", p.top)
    .attr("width", x.range()[1] - x.range()[0]).attr("height", p.bottom - p.top)
    .attr("fill", "none").attr("stroke", "#111").attr("stroke-width", 2.4);

  // left and right value axes
  const left = g.append("g").attr("transform", `translate(${x.range()[0]},0)`)
    .call(d3.axisLeft(y).tickValues(p.ticks).tickSize(0).tickPadding(6).tickFormat(fmt));
  const right = g.append("g").attr("transform", `translate(${x.range()[1]},0)`)
    .call(d3.axisRight(y).tickValues(p.ticks).tickSize(0).tickPadding(6).tickFormat(fmt));
  [left, right].forEach(a => {
    a.select(".domain").remove();
    a.selectAll("text").attr("font-size", 14).attr("fill", "#222")
      .attr("font-family", "'Liberation Sans', Arial, sans-serif");
  });

  g.append("text")
    .attr("transform", `translate(40,${(p.top + p.bottom) / 2}) rotate(-90)`)
    .attr("text-anchor", "middle").attr("dy", "0.35em").attr("font-size", 16.5).attr("fill", "#222")
    .text("[mm]");
});

// calendar years along the top
svg.append("g").selectAll("text").data(yearLabels).join("text")
  .attr("x", (d, i) => x(yearWeeks[i]) + 5).attr("y", 67)
  .attr("text-anchor", "middle").attr("font-size", 11.5).attr("fill", "#9a9a9a")
  .text(d => d);

// GPS week axis
const xa = svg.append("g").attr("transform", "translate(0,527)")
  .call(d3.axisBottom(x).tickValues(weekTicks).tickSize(0).tickPadding(5).tickFormat(d3.format("d")));
xa.select(".domain").remove();
xa.selectAll("text").attr("font-size", 14).attr("fill", "#222")
  .attr("font-family", "'Liberation Sans', Arial, sans-serif");

svg.append("text").attr("x", 468).attr("y", 559).attr("text-anchor", "middle")
  .attr("font-size", 17).attr("fill", "#222").text("GPS WEEK");

svg.append("text").attr("x", 468).attr("y", 29).attr("text-anchor", "middle")
  .attr("font-size", 20.5).attr("fill", "#222").text("DELF_13502M004 (Converted to ETRF2000)");

svg.append("text").attr("x", 12).attr("y", 581).attr("font-size", 13.5)
  .attr("font-style", "italic").attr("fill", "#222").text("EPN CB");
svg.append("text").attr("x", 915).attr("y", 581).attr("text-anchor", "end").attr("font-size", 13.5)
  .attr("font-style", "italic").attr("fill", "#222")
  .style("white-space", "pre").text("Tue Feb  4 02:46:06 2014");
</script>
</body>
</html>
